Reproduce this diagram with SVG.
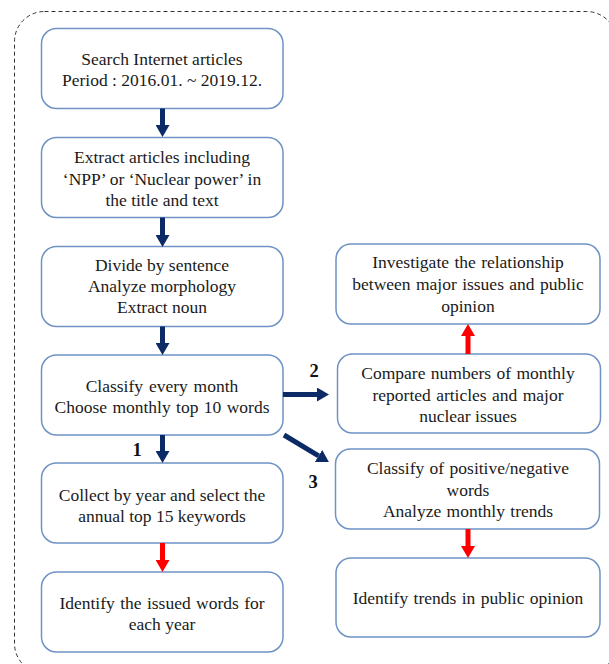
<svg xmlns="http://www.w3.org/2000/svg" width="609" height="664" viewBox="0 0 609 664">
<defs>
<style>
.box{fill:#fff;stroke:#6f93c4;stroke-width:1.5}
.t{font-family:"Liberation Serif","Times New Roman",serif;font-size:17.5px;fill:#1a1a1a;text-anchor:middle}
.lbl{font-family:"Liberation Serif","Times New Roman",serif;font-size:18.5px;font-weight:bold;fill:#111;text-anchor:middle}
.nav{stroke:#0b2a66;stroke-width:5;fill:none}
.red{stroke:#ff0000;stroke-width:5;fill:none}
</style>
<marker id="hn" markerUnits="userSpaceOnUse" viewBox="0 0 12 14" refX="0" refY="7" markerWidth="12" markerHeight="14" orient="auto"><path d="M0,0 L12,7 L0,14 z" fill="#0b2a66"/></marker>
<marker id="hr" markerUnits="userSpaceOnUse" viewBox="0 0 12 14" refX="0" refY="7" markerWidth="12" markerHeight="14" orient="auto"><path d="M0,0 L12,7 L0,14 z" fill="#ff0000"/></marker>
</defs>
<rect x="14.5" y="11.5" width="602" height="662" rx="30" fill="#fff" stroke="#333" stroke-width="1" stroke-dasharray="4,3"/>
<g id="n1"><rect class="box" x="41.5" y="28.5" width="241.5" height="80" rx="15"/>
<text class="t" x="162" y="65">Search Internet articles</text>
<text class="t" x="162" y="86">Period : 2016.01. ~ 2019.12.</text></g>
<g id="n2"><rect class="box" x="41.5" y="137.5" width="241.5" height="80" rx="15"/>
<text class="t" x="162" y="163">Extract articles including</text>
<text class="t" x="162" y="185">‘NPP’ or ‘Nuclear power’ in</text>
<text class="t" x="162" y="206">the title and text</text></g>
<g id="n3"><rect class="box" x="41.5" y="246.5" width="241.5" height="80" rx="15"/>
<text class="t" x="162" y="271">Divide by sentence</text>
<text class="t" x="162" y="292">Analyze morphology</text>
<text class="t" x="162" y="313">Extract noun</text></g>
<g id="n4"><rect class="box" x="41.5" y="355" width="241.5" height="80" rx="15"/>
<text class="t" x="162" y="392" word-spacing="1.5">Classify every month</text>
<text class="t" x="162" y="413" word-spacing="1">Choose monthly top 10 words</text></g>
<g id="n5"><rect class="box" x="41.5" y="463" width="241.5" height="80" rx="15"/>
<text class="t" x="162" y="501">Collect by year and select the</text>
<text class="t" x="162" y="522">annual top 15 keywords</text></g>
<g id="n6"><rect class="box" x="41.5" y="572" width="241.5" height="80" rx="15"/>
<text class="t" x="162" y="609" word-spacing="1">Identify the  issued words for</text>
<text class="t" x="162" y="630">each year</text></g>
<g id="nA"><rect class="box" x="336" y="244" width="264" height="80" rx="15"/>
<text class="t" x="468" y="268" word-spacing="1">Investigate the relationship</text>
<text class="t" x="468" y="290" word-spacing="1">between major issues and public</text>
<text class="t" x="468" y="312">opinion</text></g>
<g id="nB"><rect class="box" x="337.5" y="354" width="263" height="79" rx="15"/>
<text class="t" x="468" y="379" word-spacing="1">Compare numbers of monthly</text>
<text class="t" x="468" y="401" word-spacing="1">reported articles and major</text>
<text class="t" x="468" y="422">nuclear issues</text></g>
<g id="nC"><rect class="box" x="335.5" y="449" width="264" height="80" rx="15"/>
<text class="t" x="468" y="474" word-spacing="1">Classify of positive/negative</text>
<text class="t" x="468" y="496">words</text>
<text class="t" x="468" y="517" word-spacing="1">Analyze monthly trends</text></g>
<g id="nD"><rect class="box" x="336" y="558" width="264" height="79" rx="15"/>
<text class="t" x="468" y="604" word-spacing="1">Identify trends in public opinion</text></g>
<g id="connectors">
<line class="nav" x1="162.5" y1="108.5" x2="162.5" y2="125" marker-end="url(#hn)"/>
<line class="nav" x1="162.5" y1="217.5" x2="162.5" y2="235" marker-end="url(#hn)"/>
<line class="nav" x1="162.5" y1="326.5" x2="162.5" y2="343" marker-end="url(#hn)"/>
<line class="nav" x1="162.5" y1="435" x2="162.5" y2="451" marker-end="url(#hn)"/>
<line class="red" x1="162.5" y1="543" x2="162.5" y2="560" marker-end="url(#hr)"/>
<line class="nav" x1="283" y1="394.5" x2="317" y2="394.5" marker-end="url(#hn)"/>
<line class="nav" x1="284" y1="435" x2="318.6" y2="455.9" marker-end="url(#hn)"/>
<line class="red" x1="468" y1="354" x2="468" y2="336" marker-end="url(#hr)"/>
<line class="red" x1="468" y1="529" x2="468" y2="546" marker-end="url(#hr)"/>
<text class="lbl" x="137" y="456">1</text>
<text class="lbl" x="314" y="377">2</text>
<text class="lbl" x="313" y="488">3</text>
</g>
</svg>
